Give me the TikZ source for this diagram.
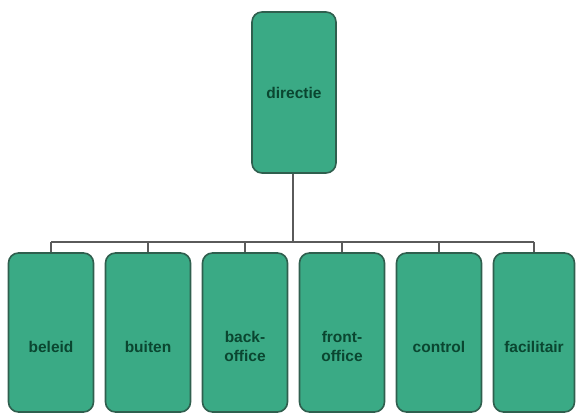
\documentclass[tikz,border=0pt]{standalone}
\usepackage{fontspec}
\setmainfont{Liberation Sans}
\begin{document}
\begin{tikzpicture}[x=1pt,y=1pt,
  orgbox/.style={draw=boxline, fill=boxfill, line width=1.6pt, rounded corners=10pt,
    minimum width=85pt, minimum height=159pt, inner sep=0pt},
  boxtext/.style={text=textgreen, font=\bfseries\fontsize{15.5}{19.5}\selectfont, align=center},
  link/.style={draw=linegray, line width=1.8pt}]
\definecolor{boxfill}{HTML}{3AAA85}
\definecolor{boxline}{HTML}{2F5F4E}
\definecolor{textgreen}{HTML}{0A4630}
\definecolor{linegray}{HTML}{5A5A5A}
\useasboundingbox (0,0) rectangle (576,414);
\node[orgbox, minimum width=84pt, minimum height=161pt,
  label={[boxtext]center:directie}] (top) at (294,321.5) {};
\foreach \n/\x/\t in {b1/51/beleid, b2/148/buiten, b3/245/{back-\\office},
    b4/342/{front-\\office}, b5/439/control}{
  \node[orgbox, label={[boxtext, yshift=-14pt]center:\t}] (\n) at (\x,81.5) {};
}
\node[orgbox, minimum width=81pt, label={[boxtext, yshift=-14pt]center:facilitair}] (b6) at (534,81.5) {};
\coordinate (bus) at (293,172);
\draw[link] (top.south -| bus) -- (bus);
\draw[link] (b1.north |- bus) -- (b6.north |- bus);
\foreach \n in {b1,b2,b3,b4,b5,b6}{
  \draw[link] (\n.north |- bus) -- (\n.north);
}
\end{tikzpicture}
\end{document}
